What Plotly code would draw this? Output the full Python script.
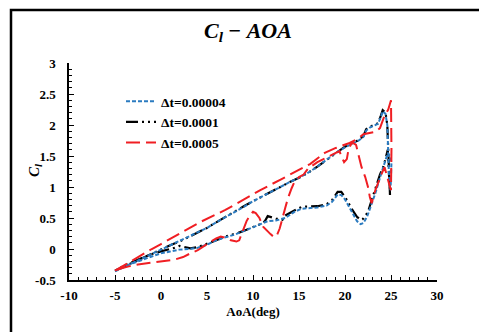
import plotly.graph_objects as go

# ---- Data ----
# dt = 0.0001 (black, dash-dot): upstroke then downstroke
aoa_b = [-5, -4, -3, -2, -1, 0, 1, 2, 3, 4, 5, 6, 7, 8, 9, 10, 11, 12, 13, 14, 15, 16, 17, 18, 19, 20,
         21, 21.5, 22, 22.3, 22.7, 23.2, 23.6, 23.9, 24.1, 24.4, 24.6, 24.75, 24.9,
         24.8, 24.65, 24.4, 24.1, 23.8, 23.4, 22.9, 22.5, 22.0, 21.7, 21.3, 20.8, 20.4, 20.0, 19.6, 19.2,
         18.6, 18.0, 17.0, 16.0, 15.3, 14.5, 13.5, 13.2, 12.5, 11.6, 11.3, 10.8, 10.2, 9.3, 8.4, 7.5, 7,
         6, 5, 4, 3.2, 2.5, 2, 1.5, 1, 0, -1, -2, -3, -4, -5]
cl_b = [-0.35, -0.28, -0.21, -0.14, -0.08, -0.01, 0.06, 0.12, 0.19, 0.26, 0.34, 0.43, 0.52, 0.60, 0.69, 0.77,
        0.85, 0.93, 1.00, 1.08, 1.15, 1.23, 1.33, 1.44, 1.55, 1.65,
        1.72, 1.76, 1.82, 1.93, 1.97, 2.00, 2.03, 2.15, 2.24, 2.20, 2.00, 1.40, 0.84,
        1.20, 1.60, 1.45, 1.30, 1.20, 1.00, 0.79, 0.60, 0.49, 0.47, 0.52, 0.63, 0.74, 0.84, 0.92, 0.92,
        0.79, 0.72, 0.69, 0.69, 0.68, 0.62, 0.54, 0.47, 0.49, 0.53, 0.45, 0.40, 0.36, 0.31, 0.26, 0.22, 0.20,
        0.14, 0.08, 0.03, 0.01, 0.04, 0.05, 0.02, 0.00, -0.03, -0.08, -0.14, -0.20, -0.27, -0.35]

# dt = 0.00004 (blue, dotted)
aoa_u = [-5, -4, -3, -2, -1, 0, 1, 2, 3, 4, 5, 6, 7, 8, 9, 10, 11, 12, 13, 14, 15, 16, 17, 18, 19, 20,
         21, 21.5, 22, 22.3, 22.7, 23.2, 23.6, 23.9, 24.1, 24.4, 24.6, 24.8, 24.95,
         25.05, 24.9, 24.65, 24.3, 23.8, 23.3, 22.9, 22.4, 22.0, 21.7, 21.3, 20.8, 20.4, 20.0, 19.6, 19.2,
         18.6, 18.0, 17.0, 16.0, 15.3, 14.5, 13.5, 12.5, 11.6, 10.8, 10, 9, 8, 7,
         6, 5, 4, 3, 2, 1, 0, -1, -2, -3, -4, -5]
cl_u = [-0.36, -0.29, -0.22, -0.15, -0.08, -0.02, 0.05, 0.12, 0.19, 0.26, 0.34, 0.43, 0.51, 0.60, 0.68, 0.77,
        0.85, 0.93, 1.00, 1.08, 1.15, 1.23, 1.33, 1.44, 1.55, 1.64,
        1.71, 1.75, 1.81, 1.91, 1.96, 1.99, 2.02, 2.13, 2.22, 2.18, 2.00, 1.10, 0.95,
        1.40, 1.50, 1.55, 1.40, 1.15, 0.90, 0.72, 0.52, 0.42, 0.40, 0.45, 0.58, 0.70, 0.80, 0.87, 0.88,
        0.76, 0.70, 0.67, 0.66, 0.65, 0.60, 0.50, 0.46, 0.45, 0.40, 0.35, 0.29, 0.23, 0.19,
        0.14, 0.07, 0.02, 0.00, -0.01, -0.04, -0.07, -0.12, -0.17, -0.22, -0.28, -0.35]

# dt = 0.0005 (red, long dash)
aoa_r = [-5, -4, -3, -2, -1, 0, 2, 4.2, 7, 10.8, 13, 15, 16.2, 17.8, 19, 20.5, 21.4, 22, 23.3, 23.8, 24.3,
         24.7, 25, 25.05, 25,
         24.8, 24.3, 24.0, 23.6, 23.3, 22.9, 22.7, 22.5, 22.2, 21.8, 21.4, 21.2, 20.8, 20.4, 20.2, 19.9,
         19.6, 19.4, 19.0, 18.0, 17.0, 16.0, 15.5, 15.0, 14.5, 14.2, 13.8, 13.5, 13.2, 12.9, 12.6, 12.3,
         11.9, 11.5, 11.1, 10.7, 10.3, 10.0, 9.7, 9.3, 8.9, 8.5, 8.2, 7.6, 7.1, 6.5, 6.0, 5.5, 5.0, 4.5,
         4.0, 3.2, 2.4, 1.5, 0.5, -0.5, -1.5, -2.5, -3.5, -4.3, -5]
cl_r = [-0.35, -0.26, -0.17, -0.08, 0.00, 0.08, 0.25, 0.43, 0.63, 0.95, 1.12, 1.28, 1.37, 1.55, 1.63, 1.71,
        1.78, 1.85, 1.89, 1.95, 2.15, 2.25, 2.40, 1.60, 0.95,
        1.05, 1.32, 1.22, 1.06, 0.95, 0.74, 0.84, 1.00, 1.16, 1.32, 1.56, 1.68, 1.72, 1.62, 1.45, 1.40,
        1.50, 1.58, 1.55, 1.48, 1.40, 1.30, 1.20, 1.16, 1.08, 0.98, 0.82, 0.66, 0.50, 0.33, 0.22, 0.19,
        0.24, 0.30, 0.36, 0.50, 0.58, 0.60, 0.55, 0.45, 0.30, 0.14, 0.12, 0.14, 0.18, 0.20, 0.17, 0.13,
        0.08, 0.03, -0.02, -0.07, -0.13, -0.17, -0.19, -0.20, -0.22, -0.25, -0.28, -0.31, -0.35]

x_ticks = [-10, -5, 0, 5, 10, 15, 20, 25, 30]
y_ticks = [-0.5, 0, 0.5, 1, 1.5, 2, 2.5, 3]
y_tick_text = ["-0.5", "0", "0.5", "1", "1.5", "2", "2.5", "3"]

SERIF = "Liberation Serif, Times New Roman, serif"
BLUE = "#2B7BC0"
RED = "#F01E23"

fig = go.Figure()
fig.add_trace(go.Scatter(x=aoa_b, y=cl_b, mode="lines", name="<b>Δt=0.0001</b>", legendrank=2,
                         line=dict(color="black", width=2.2, dash="12px,4px,2px,4px,2px,4px")))
fig.add_trace(go.Scatter(x=aoa_u, y=cl_u, mode="lines", name="<b>Δt=0.00004</b>", legendrank=1,
                         line=dict(color=BLUE, width=2, dash="4px,2px")))
fig.add_trace(go.Scatter(x=aoa_r, y=cl_r, mode="lines", name="<b>Δt=0.0005</b>", legendrank=3,
                         line=dict(color=RED, width=2, dash="14px,6px")))

L, R, T, B = 69, 42, 63, 52
W, H = 479, 332
pw, ph = W - L - R, H - T - B

fig.update_layout(
    width=W, height=H,
    margin=dict(l=L, r=R, t=T, b=B),
    paper_bgcolor="white", plot_bgcolor="white",
    font=dict(family=SERIF, size=13, color="black"),
    title=dict(text="<b><i>C<sub>l</sub></i> − <i>AOA</i></b>", x=248 / W, xanchor="center",
               y=1 - 30 / H, yanchor="middle", font=dict(size=22, family=SERIF)),
    showlegend=True,
    legend=dict(x=(121 - L) / pw, y=(H - B - 86) / ph, xanchor="left", yanchor="top",
                bgcolor="rgba(0,0,0,0)", font=dict(size=13.5, family=SERIF), tracegroupgap=0),
    xaxis=dict(range=[-10, 30], tickvals=x_ticks, ticktext=["<b>%d</b>" % v for v in x_ticks],
               showline=True, linecolor="black", linewidth=1.5,
               ticks="inside", ticklen=5, tickwidth=1, tickcolor="black", showgrid=False, zeroline=False,
               tickfont=dict(size=13, family=SERIF), ticklabelstandoff=3,
               minor=dict(dtick=1, ticks="inside", ticklen=3, tickcolor="black", showgrid=False),
               title=dict(text="<b>AoA(deg)</b>", font=dict(size=13, family=SERIF), standoff=5)),
    yaxis=dict(range=[-0.5, 3], tickvals=y_ticks, ticktext=["<b>%s</b>" % t for t in y_tick_text],
               showline=True, linecolor="black", linewidth=1.5,
               ticks="inside", ticklen=5, tickwidth=1, tickcolor="black", showgrid=False, zeroline=False,
               tickfont=dict(size=13, family=SERIF), ticklabelstandoff=9,
               minor=dict(dtick=0.1, ticks="inside", ticklen=3, tickcolor="black", showgrid=False)),
)

# y-axis title placed like the reference (between the 1.5 and 1 tick labels)
fig.add_annotation(text="<b><i>C<sub>l</sub></i></b>", xref="paper", yref="paper",
                   x=(35 - L) / pw, y=(H - B - 171) / ph, xanchor="center", yanchor="middle",
                   textangle=-90, showarrow=False, font=dict(size=15, family=SERIF))

# outer frame (top and left edges visible)
fig.add_shape(type="rect", xref="paper", yref="paper",
              x0=(11 - L) / pw, x1=2.0, y0=-1.0, y1=(H - B - 10) / ph,
              line=dict(color="black", width=2.5), layer="above")

fig.write_html("out.html")
